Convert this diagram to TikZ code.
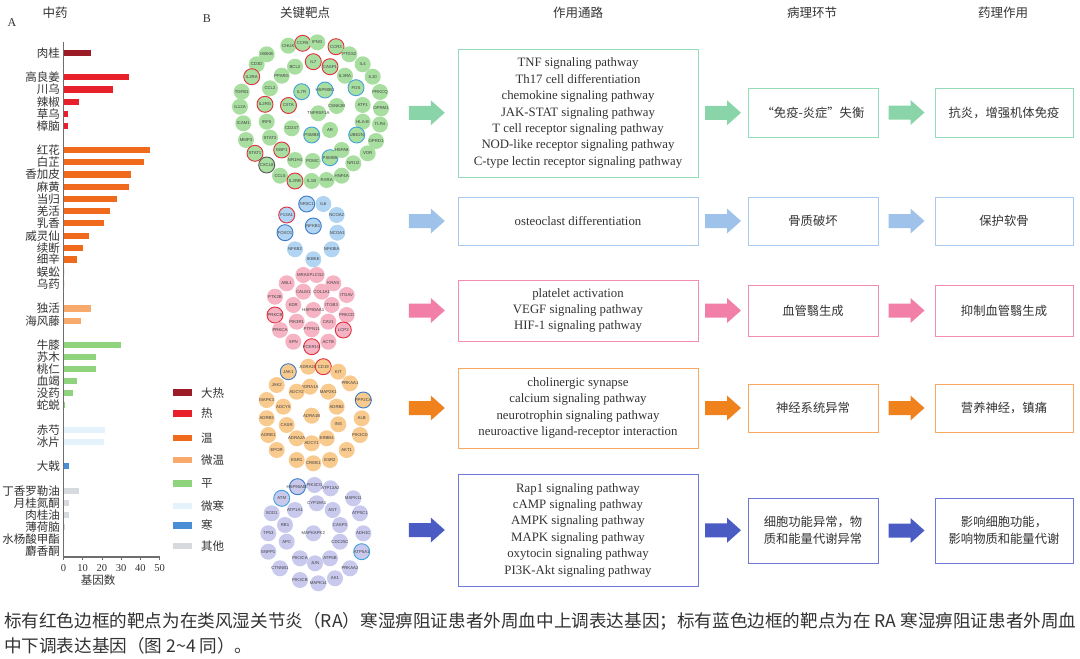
\documentclass[tikz,border=0pt]{standalone}
\usepackage{fontspec}
\setmainfont{Liberation Serif}
\newfontfamily\cjk{Noto Sans CJK SC}
\newfontfamily\genefont{Liberation Sans}
\usetikzlibrary{calc}

% bar / legend colours (herbal property)
\definecolor{cDare}{HTML}{9B1C26}
\definecolor{cRe}{HTML}{E8202A}
\definecolor{cWen}{HTML}{F06A1E}
\definecolor{cWeiwen}{HTML}{F7AA6C}
\definecolor{cPing}{HTML}{8FD47C}
\definecolor{cWeihan}{HTML}{E4F2FB}
\definecolor{cHan}{HTML}{4A8ED6}
\definecolor{cOther}{HTML}{D6D9DE}
% target clusters
\definecolor{gGreen}{HTML}{A8DEA0}
\definecolor{gBlue}{HTML}{B0D4F2}
\definecolor{gPink}{HTML}{F5B3C3}
\definecolor{gOrange}{HTML}{F9CA8E}
\definecolor{gLav}{HTML}{C9C9EE}
\definecolor{upc}{HTML}{E3303E}
\definecolor{dnc}{HTML}{3C7CC8}
\definecolor{dnc2}{HTML}{40A2DA}
% rows
\definecolor{bA}{HTML}{93DDBB}\definecolor{aA}{HTML}{8AD4AA}
\definecolor{bB}{HTML}{A9C9EE}\definecolor{aB}{HTML}{9EC2EA}
\definecolor{bC}{HTML}{F28DB0}\definecolor{aC}{HTML}{F27FA8}
\definecolor{bD}{HTML}{F8A860}\definecolor{aD}{HTML}{F0821E}
\definecolor{bE}{HTML}{7078D8}\definecolor{aE}{HTML}{4A5CC4}
\definecolor{txt}{HTML}{333333}
\definecolor{axisc}{HTML}{6E6E6E}

% block arrow half way between two boxes
\newcommand\blockarrow[3]{%
  \fill[#3] ($(#1.east)!0.5!(#2.west)$) ++(-18,-7) -- ++(22,0) -- ++(0,-5.5)
    -- ++(14,12.5) -- ++(-14,12.5) -- ++(0,-5.5) -- ++(-22,0) -- cycle;}

\begin{document}
\begin{tikzpicture}[x=1pt,y=-1pt,
  every node/.style={text=txt},
  hdr/.style={font=\cjk\fontsize{12.5}{14}\selectfont},
  blab/.style={anchor=east,inner sep=0pt,font=\cjk\fontsize{11.5}{13}\selectfont},
  tick/.style={font=\fontsize{10.5}{12}\selectfont,inner sep=0pt},
  gene/.style={circle,minimum size=16pt,inner sep=0pt},
  genelab/.style={font=\genefont\fontsize{4.3}{5}\selectfont,text=black!75,inner sep=0pt},
  upreg/.style={draw=upc,line width=0.9pt},
  downreg/.style={draw=dnc,line width=0.9pt},
  downlt/.style={draw=dnc2,line width=0.9pt},
  darkring/.style={draw=black!65,line width=0.9pt},
  plain/.style={},
  pbox/.style={draw=#1,line width=0.9pt,inner sep=0pt,align=center,minimum width=240pt,
    font=\fontsize{12.8}{16.4}\selectfont},
  sbox/.style={draw=#1,line width=0.9pt,inner sep=0pt,align=center,
    font=\cjk\fontsize{12.3}{16.5}\selectfont},
]
\useasboundingbox (0,0) rectangle (1080,659);
\fill[white] (0,0) rectangle (1080,659);

% ---------- headers ----------
\node[font=\fontsize{12}{13}\selectfont] (lA) at (12,23) {A};
\node[font=\fontsize{12}{13}\selectfont] (lB) at (207,19) {B};
\node[hdr] (h1) at (55,13) {中药};
\node[hdr] (h2) at (305,13) {关键靶点};
\node[hdr] (h3) at (578,13) {作用通路};
\node[hdr] (h4) at (812,13) {病理环节};
\node[hdr] (h5) at (1003,13) {药理作用};

% ---------- panel A: bar chart ----------
\foreach \lab/\y/\len/\c [count=\i] in {
  肉桂/53/26.7/cDare,
  高良姜/77/65/cRe, 川乌/89.3/49.3/cRe, 辣椒/101.7/15/cRe, 草乌/114/3.5/cRe, 樟脑/126/3.5/cRe,
  红花/150/86/cWen, 白芷/162/80/cWen, 香加皮/174.3/66.7/cWen, 麻黄/186.7/64.7/cWen,
  当归/198.7/53.3/cWen, 羌活/211/45.7/cWen, 乳香/223/40/cWen, 威灵仙/235.7/24.7/cWen,
  续断/247.7/19/cWen, 细辛/259.3/13/cWen, 蜈蚣/272/0/cWen, 乌药/284/0/cWen,
  独活/308.3/26.7/cWeiwen, 海风藤/320.7/17/cWeiwen,
  牛膝/345/57.3/cPing, 苏木/357/32.3/cPing, 桃仁/368.7/32.3/cPing, 血竭/380.7/13/cPing,
  没药/393/9.3/cPing, 蛇蜕/405/1.3/cPing,
  赤芍/429.7/40.7/cWeihan, 冰片/441.7/40/cWeihan,
  大戟/466/5.3/cHan,
  丁香罗勒油/491/15/cOther, 月桂氮酮/503/5.3/cOther, 肉桂油/515/5.3/cOther,
  薄荷脑/527/1/cOther, 水杨酸甲酯/539.3/0/cOther, 麝香酮/551/0/cOther}
{
  \node[blab] (bar\i) at (60,\y) {\lab};
  \fill[\c] (64,{\y-3.2}) rectangle ++(\len,6.4);
}
\draw[axisc,line width=1.1pt] (63.5,42) -- (63.5,557) -- (160,557);
\foreach \k in {0,...,5}{
  \pgfmathtruncatemacro\v{10*\k}
  \draw[axisc,line width=0.8pt] ({63.5+19.2*\k},557) -- ++(0,3);
  \node[tick] (tk\k) at ({63.5+19.2*\k},568) {\v};
}
\node[blab,anchor=center] (xlab) at (98,580) {基因数};

% legend
\foreach \lab/\y/\c [count=\i] in {大热/392.7/cDare, 热/413.3/cRe, 温/438/cWen, 微温/460/cWeiwen,
  平/483.3/cPing, 微寒/506/cWeihan, 寒/525.3/cHan, 其他/546/cOther}
{
  \fill[\c] (173.3,{\y-3.4}) rectangle (191.7,{\y+3.4});
  \node[blab,anchor=west] (lg\i) at (201,\y) {\lab};
}

% ---------- panel B: target clusters ----------
% immune / inflammation targets
\foreach \lab/\x/\y/\st [count=\i] in {
  CHUK/288.3/45.7/plain, CCR5/302.7/43.3/upreg, IFNG/317.3/42.3/plain, CCR3/336/46.7/upreg,
  PTGS2/349.3/54.3/plain, IKBKB/266.7/54.3/plain, IL4/362.7/64.3/plain, CD3D/256.7/64.3/plain,
  BCL2/295/66.7/plain, IL7/313.3/61.7/upreg, CASP1/330/66.7/upreg, PPARG/281.7/75.7/plain,
  IL2RA/251.7/76.7/upreg, IL3RA/345/75.7/plain, IL10/372.7/76.7/plain, TGFB1/241.7/91.7/plain,
  CCL2/270/88.3/plain, IL7R/301.7/91.7/downlt, HSP90B1/325/90/downlt, FOS/356/87.7/downlt,
  PRKCQ/380/92/plain, IL2RG/265/104.3/upreg, CIITA/288.5/105.5/upreg, TNFRSF1A/318.3/113.3/plain,
  CSNK2B/336.7/106/plain, ATF1/362.7/105/plain, OPRM1/381/108.5/plain, IL12A/240/106.7/plain,
  IRF5/266.7/121.7/plain, ICAM1/243.3/123.3/plain, CD247/291.7/128.3/plain, AR/330/130/plain,
  HLA-B/362.7/121.7/plain, TLR4/380/124.5/plain, MMP3/246/140/plain, STAT3/270/137.7/plain,
  PSMB8/311.7/135/downlt, UBE2N/356.7/135/downlt, OPRD1/376/141/plain, STAT1/255/153.3/upreg,
  GBP1/281.7/150/upreg, NR1H4/295/160/plain, POMC/312.7/161/plain, PSMB9/330/157.7/downlt,
  HSPA8/341.7/150/plain, VDR/367.7/153.3/plain, CXCL8/266.7/165/darkring, NR1I2/353.3/163.3/plain,
  CCL5/280/175.7/plain, IL2RB/295/181/upreg, IL1B/311.7/181/plain, RXRA/326.7/180/plain,
  HNF4A/341.7/175.7/plain}
{ \node[gene,fill=gGreen,\st,label={[genelab]center:\lab}] (ga\i) at (\x,\y) {}; }

% bone targets
\foreach \lab/\x/\y/\st [count=\i] in {
  NR3C1/306.7/204/downreg, IL6/323.3/204/plain, F13A1/286.7/215/upreg, NCOA2/336.7/215/plain,
  NFKB1/313.3/226/downreg, FOXO1/285/232.7/downreg, NCOA1/337.3/232.7/plain,
  NFKB2/295/249.3/plain, NFKBIA/331.7/249.3/plain, IKBKE/313.3/259.3/plain}
{ \node[gene,fill=gBlue,\st,label={[genelab]center:\lab}] (gb\i) at (\x,\y) {}; }

% angiogenesis targets
\foreach \lab/\x/\y/\st [count=\i] in {
  MRAS/303.3/275/plain, PLCG2/316.7/275/plain, ABL1/286.7/283.3/plain, KRAS/333.3/283.3/plain,
  CALM1/303.3/291.7/plain, COL1A1/321.7/291.7/plain, PTK2B/275/296.7/plain, ITGAV/346.7/295/plain,
  KDR/293.3/305/plain, ITGB3/331.7/305/plain, HSP90AA1/313.3/310/plain, PRKCB/275/315/upreg,
  PRKCD/346.7/315/plain, PIK3R1/296.7/321.7/plain, CAV1/328.3/321.7/plain, PRKCA/280/330/plain,
  PTPN11/311.7/329.3/plain, LCP2/343.3/330/upreg, SPN/293.3/341.7/plain, FCER1G/311.7/346.7/upreg,
  ACTB/328.3/341.7/plain}
{ \node[gene,fill=gPink,\st,label={[genelab]center:\lab}] (gc\i) at (\x,\y) {}; }

% nervous system targets
\foreach \lab/\x/\y/\st [count=\i] in {
  ADRA2B/308.3/366.7/plain, CD19/323.3/366.7/upreg, JAK1/288.3/371.7/downreg, KIT/338.3/371.7/plain,
  JAK2/276.7/385/plain, PRKAA1/350/383.3/plain, ADRA1A/310/386.7/plain, ADCY2/296.7/391.7/plain,
  MAP2K1/328.3/391.7/plain, MAPK3/266.7/400/plain, PPP2CA/363.3/400/downreg, ADCY5/283.3/406.7/plain,
  ADRB2/336.7/406.7/plain, ADRA1B/311.7/415.7/plain, ADRB3/266.7/418.3/plain, ALB/361.7/418.3/plain,
  CASR/286.7/425/plain, INS/338.3/424.3/plain, ADRB1/268.3/435/plain, PIK3CD/360/435/plain,
  ADRA2A/296.7/438.3/plain, ERBB4/326.7/438.3/plain, ADCY1/311.7/443.3/plain, EPOR/276.7/450/plain,
  AKT1/346.7/450/plain, ESR1/296.7/460/plain, CREB1/313.3/463.3/plain, ESR2/330/460/plain}
{ \node[gene,fill=gOrange,\st,label={[genelab]center:\lab}] (gd\i) at (\x,\y) {}; }

% cell function / metabolism targets
\foreach \lab/\x/\y/\st [count=\i] in {
  HSP90AB1/297.5/486.7/downreg, PIK3CG/314.5/485/plain, ATP13A2/330.5/488.3/plain, ATM/281.7/498.3/downlt,
  MAPK11/353.3/498.3/plain, CYP19A1/316.7/503.3/plain, ATP1A1/295/510/plain, AGT/332.7/510/plain,
  SOD1/271.7/513.3/plain, ATP5C1/360/513.3/plain, RB1/285/525/plain, CASP3/340/525/plain,
  TP53/268.3/533.3/plain, ADH1C/363.3/533.3/plain, MAPKAPK2/313.3/533.3/plain, APC/286.7/541.7/plain,
  CDC25C/340/541.7/plain, ENPP1/268.3/551.7/plain, ATP5A1/361.7/551.7/downlt, PIK3CA/300/558.3/plain,
  ATP5B/330/558.3/plain, JUN/315/563.3/plain, PRKAA2/350/568.3/plain, CTNNB1/280/568.3/plain,
  AK1/335/578.3/plain, PIK3CB/300/580/plain, MAPK14/318.3/583.3/plain}
{ \node[gene,fill=gLav,\st,label={[genelab]center:\lab}] (ge\i) at (\x,\y) {}; }

% right-hand exits of the five target groups
\coordinate (kA) at (396,112.5);
\coordinate (kB) at (396,221);
\coordinate (kC) at (396,310.5);
\coordinate (kD) at (396,408);
\coordinate (kE) at (396,530);

% ---------- pathways, pathology, pharmacology ----------
\node[pbox=bA,minimum height=128pt] (p1) at (578,113) {TNF signaling pathway\\Th17 cell differentiation\\chemokine signaling pathway\\JAK-STAT signaling pathway\\T cell receptor signaling pathway\\NOD-like receptor signaling pathway\\C-type lectin receptor signaling pathway};
\node[sbox=bA,minimum width=130pt,minimum height=49pt] (c1) at (813,112.5) {“免疫-炎症”失衡};
\node[sbox=bA,minimum width=138pt,minimum height=49pt] (d1) at (1004,112.5) {抗炎，增强机体免疫};

\node[pbox=bB,minimum height=48pt] (p2) at (578,221) {osteoclast differentiation};
\node[sbox=bB,minimum width=130pt,minimum height=48pt] (c2) at (813,221) {骨质破坏};
\node[sbox=bB,minimum width=138pt,minimum height=48pt] (d2) at (1004,221) {保护软骨};

\node[pbox=bC,minimum height=61pt] (p3) at (578,310.5) {platelet activation\\VEGF signaling pathway\\HIF-1 signaling pathway};
\node[sbox=bC,minimum width=130pt,minimum height=51pt] (c3) at (813,310.5) {血管翳生成};
\node[sbox=bC,minimum width=138pt,minimum height=51pt] (d3) at (1004,310.5) {抑制血管翳生成};

\node[pbox=bD,minimum height=80pt] (p4) at (578,408) {cholinergic synapse\\calcium signaling pathway\\neurotrophin signaling pathway\\neuroactive ligand-receptor interaction};
\node[sbox=bD,minimum width=130pt,minimum height=48pt] (c4) at (813,408) {神经系统异常};
\node[sbox=bD,minimum width=138pt,minimum height=48pt] (d4) at (1004,408) {营养神经，镇痛};

\node[pbox=bE,minimum height=112pt] (p5) at (578,530) {Rap1 signaling pathway\\cAMP signaling pathway\\AMPK signaling pathway\\MAPK signaling pathway\\oxytocin signaling pathway\\PI3K-Akt signaling pathway};
\node[sbox=bE,minimum width=130pt,minimum height=65pt] (c5) at (813,530.5) {细胞功能异常，物\\质和能量代谢异常};
\node[sbox=bE,minimum width=138pt,minimum height=65pt] (d5) at (1004,530.5) {影响细胞功能，\\影响物质和能量代谢};

% block arrows along each row
\blockarrow{kA}{p1}{aA}
\blockarrow{p1}{c1}{aA}
\blockarrow{c1}{d1}{aA}
\blockarrow{kB}{p2}{aB}
\blockarrow{p2}{c2}{aB}
\blockarrow{c2}{d2}{aB}
\blockarrow{kC}{p3}{aC}
\blockarrow{p3}{c3}{aC}
\blockarrow{c3}{d3}{aC}
\blockarrow{kD}{p4}{aD}
\blockarrow{p4}{c4}{aD}
\blockarrow{c4}{d4}{aD}
\blockarrow{kE}{p5}{aE}
\blockarrow{p5}{c5}{aE}
\blockarrow{c5}{d5}{aE}

% ---------- caption ----------
\node[anchor=west,inner sep=0pt,font=\cjk\fontsize{17.6}{20}\selectfont] (cap1) at (4,621)
  {标有红色边框的靶点为在类风湿关节炎（RA）寒湿痹阻证患者外周血中上调表达基因；标有蓝色边框的靶点为在 RA 寒湿痹阻证患者外周血};
\node[anchor=west,inner sep=0pt,font=\cjk\fontsize{17.6}{20}\selectfont] (cap2) at (4,646)
  {中下调表达基因（图 2\textasciitilde 4 同）。};
\end{tikzpicture}
\end{document}
